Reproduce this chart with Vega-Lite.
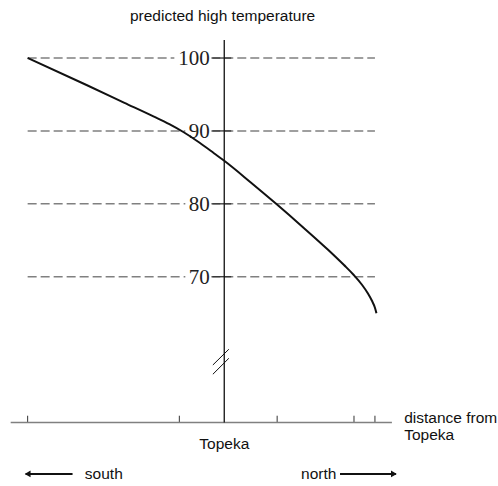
{
  "$schema": "https://vega.github.io/schema/vega-lite/v6.json",
  "width": 498,
  "height": 486,
  "padding": 0,
  "autosize": {"type": "fit", "contains": "padding"},
  "config": {"view": {"stroke": null}, "background": "white"},
  "datasets": {
    "curve": [
      {"d": -197, "t": 100},
      {"d": -138, "t": 96.3},
      {"d": -100, "t": 93.86},
      {"d": -71, "t": 92.0},
      {"d": -55, "t": 90.93},
      {"d": -41, "t": 89.85},
      {"d": -25, "t": 88.41},
      {"d": -10, "t": 86.91},
      {"d": 0, "t": 85.9},
      {"d": 26, "t": 83.0},
      {"d": 52, "t": 80.0},
      {"d": 78, "t": 76.9},
      {"d": 104, "t": 73.7},
      {"d": 120, "t": 71.6},
      {"d": 130, "t": 70.2},
      {"d": 138, "t": 68.9},
      {"d": 144, "t": 67.7},
      {"d": 148, "t": 66.7},
      {"d": 151, "t": 65.75},
      {"d": 152.5, "t": 65.0}
    ],
    "grid": [
      {"t": 100, "a": -197, "b": -50},
      {"t": 100, "a": -13, "b": 151},
      {"t": 90, "a": -197, "b": -39},
      {"t": 90, "a": -13, "b": 151},
      {"t": 80, "a": -197, "b": -39},
      {"t": 80, "a": -13, "b": 151},
      {"t": 70, "a": -197, "b": -39},
      {"t": 70, "a": -13, "b": 151}
    ],
    "labels": [
      {"t": 100, "label": "100"},
      {"t": 90, "label": "90"},
      {"t": 80, "label": "80"},
      {"t": 70, "label": "70"}
    ],
    "xticks": [{"d": -197}, {"d": -45}, {"d": 53}, {"d": 130}, {"d": 151}],
    "breaks": [
      {"x1": -11.4, "y1": 57.89, "x2": 4.6, "y2": 60.05},
      {"x1": -11.4, "y1": 56.62, "x2": 4.6, "y2": 58.81}
    ],
    "ctexts": [
      {"txt": "predicted high temperature", "d": -1.7, "t": 105.8},
      {"txt": "Topeka", "d": 0, "t": 47.1}
    ],
    "ltexts": [
      {"txt": "distance from", "d": 180.3, "t": 50.6},
      {"txt": "Topeka", "d": 180.3, "t": 48.3},
      {"txt": "south", "d": -139.7, "t": 42.94},
      {"txt": "north", "d": 77, "t": 42.94}
    ],
    "arrows": [
      {"a": -199, "b": -152, "t": 42.94},
      {"a": 116, "b": 172, "t": 42.94}
    ],
    "heads": [
      {"d": -197, "t": 42.94, "s": "triangle-left"},
      {"d": 170, "t": 42.94, "s": "triangle-right"}
    ]
  },
  "layer": [
    {
      "data": {"name": "grid"},
      "mark": {"type": "rule", "color": "#808080", "strokeWidth": 1.5, "strokeDash": [9, 4]},
      "encoding": {
        "x": {"field": "a", "type": "quantitative", "scale": {"domain": [-224.7, 273.3], "nice": false, "zero": false}, "axis": null},
        "x2": {"field": "b"},
        "y": {"field": "t", "type": "quantitative", "scale": {"domain": [41.29, 107.96], "nice": false, "zero": false}, "axis": null}
      }
    },
    {
      "data": {"name": "labels"},
      "mark": {"type": "rule", "color": "#333333", "strokeWidth": 1.3},
      "encoding": {
        "x": {"datum": -12, "type": "quantitative", "scale": {"domain": [-224.7, 273.3], "nice": false, "zero": false}, "axis": null},
        "x2": {"datum": 7},
        "y": {"field": "t", "type": "quantitative", "scale": {"domain": [41.29, 107.96], "nice": false, "zero": false}, "axis": null}
      }
    },
    {
      "data": {"name": "labels"},
      "mark": {"type": "text", "font": "Liberation Serif", "fontSize": 21, "align": "right", "baseline": "middle", "color": "#222222", "dy": 1},
      "encoding": {
        "x": {"datum": -14.5, "type": "quantitative", "scale": {"domain": [-224.7, 273.3], "nice": false, "zero": false}, "axis": null},
        "y": {"field": "t", "type": "quantitative", "scale": {"domain": [41.29, 107.96], "nice": false, "zero": false}, "axis": null},
        "text": {"field": "label"}
      }
    },
    {
      "data": {"name": "xticks"},
      "mark": {"type": "rule", "color": "#333333", "strokeWidth": 1},
      "encoding": {
        "x": {"field": "d", "type": "quantitative", "scale": {"domain": [-224.7, 273.3], "nice": false, "zero": false}, "axis": null},
        "y": {"datum": 50, "type": "quantitative", "scale": {"domain": [41.29, 107.96], "nice": false, "zero": false}, "axis": null},
        "y2": {"datum": 50.93}
      }
    },
    {
      "data": {"values": [{"k": 1}]},
      "mark": {"type": "rule", "color": "#808080", "strokeWidth": 1.5},
      "encoding": {
        "x": {"datum": -214, "type": "quantitative", "scale": {"domain": [-224.7, 273.3], "nice": false, "zero": false}, "axis": null},
        "x2": {"datum": 168},
        "y": {"datum": 50, "type": "quantitative", "scale": {"domain": [41.29, 107.96], "nice": false, "zero": false}, "axis": null}
      }
    },
    {
      "data": {"values": [{"k": 1}]},
      "mark": {"type": "rule", "color": "#111111", "strokeWidth": 1.3},
      "encoding": {
        "x": {"datum": 0, "type": "quantitative", "scale": {"domain": [-224.7, 273.3], "nice": false, "zero": false}, "axis": null},
        "y": {"datum": 50, "type": "quantitative", "scale": {"domain": [41.29, 107.96], "nice": false, "zero": false}, "axis": null},
        "y2": {"datum": 102.47}
      }
    },
    {
      "data": {"name": "breaks"},
      "mark": {"type": "rule", "color": "#111111", "strokeWidth": 1},
      "encoding": {
        "x": {"field": "x1", "type": "quantitative", "scale": {"domain": [-224.7, 273.3], "nice": false, "zero": false}, "axis": null},
        "x2": {"field": "x2"},
        "y": {"field": "y1", "type": "quantitative", "scale": {"domain": [41.29, 107.96], "nice": false, "zero": false}, "axis": null},
        "y2": {"field": "y2"}
      }
    },
    {
      "data": {"name": "curve"},
      "mark": {"type": "line", "color": "#111111", "strokeWidth": 2, "interpolate": "monotone"},
      "encoding": {
        "x": {"field": "d", "type": "quantitative", "scale": {"domain": [-224.7, 273.3], "nice": false, "zero": false}, "axis": null},
        "y": {"field": "t", "type": "quantitative", "scale": {"domain": [41.29, 107.96], "nice": false, "zero": false}, "axis": null}
      }
    },
    {
      "data": {"name": "ctexts"},
      "mark": {"type": "text", "font": "Liberation Sans", "fontSize": 15.5, "align": "center", "baseline": "middle", "color": "#111111"},
      "encoding": {
        "x": {"field": "d", "type": "quantitative", "scale": {"domain": [-224.7, 273.3], "nice": false, "zero": false}, "axis": null},
        "y": {"field": "t", "type": "quantitative", "scale": {"domain": [41.29, 107.96], "nice": false, "zero": false}, "axis": null},
        "text": {"field": "txt"}
      }
    },
    {
      "data": {"name": "ltexts"},
      "mark": {"type": "text", "font": "Liberation Sans", "fontSize": 15.5, "align": "left", "baseline": "middle", "color": "#111111"},
      "encoding": {
        "x": {"field": "d", "type": "quantitative", "scale": {"domain": [-224.7, 273.3], "nice": false, "zero": false}, "axis": null},
        "y": {"field": "t", "type": "quantitative", "scale": {"domain": [41.29, 107.96], "nice": false, "zero": false}, "axis": null},
        "text": {"field": "txt"}
      }
    },
    {
      "data": {"name": "arrows"},
      "mark": {"type": "rule", "color": "#111111", "strokeWidth": 2},
      "encoding": {
        "x": {"field": "a", "type": "quantitative", "scale": {"domain": [-224.7, 273.3], "nice": false, "zero": false}, "axis": null},
        "x2": {"field": "b"},
        "y": {"field": "t", "type": "quantitative", "scale": {"domain": [41.29, 107.96], "nice": false, "zero": false}, "axis": null}
      }
    },
    {
      "data": {"name": "heads"},
      "mark": {"type": "point", "filled": true, "color": "#111111", "size": 45, "opacity": 1},
      "encoding": {
        "x": {"field": "d", "type": "quantitative", "scale": {"domain": [-224.7, 273.3], "nice": false, "zero": false}, "axis": null},
        "y": {"field": "t", "type": "quantitative", "scale": {"domain": [41.29, 107.96], "nice": false, "zero": false}, "axis": null},
        "shape": {"field": "s", "type": "nominal", "scale": null}
      }
    }
  ]
}
